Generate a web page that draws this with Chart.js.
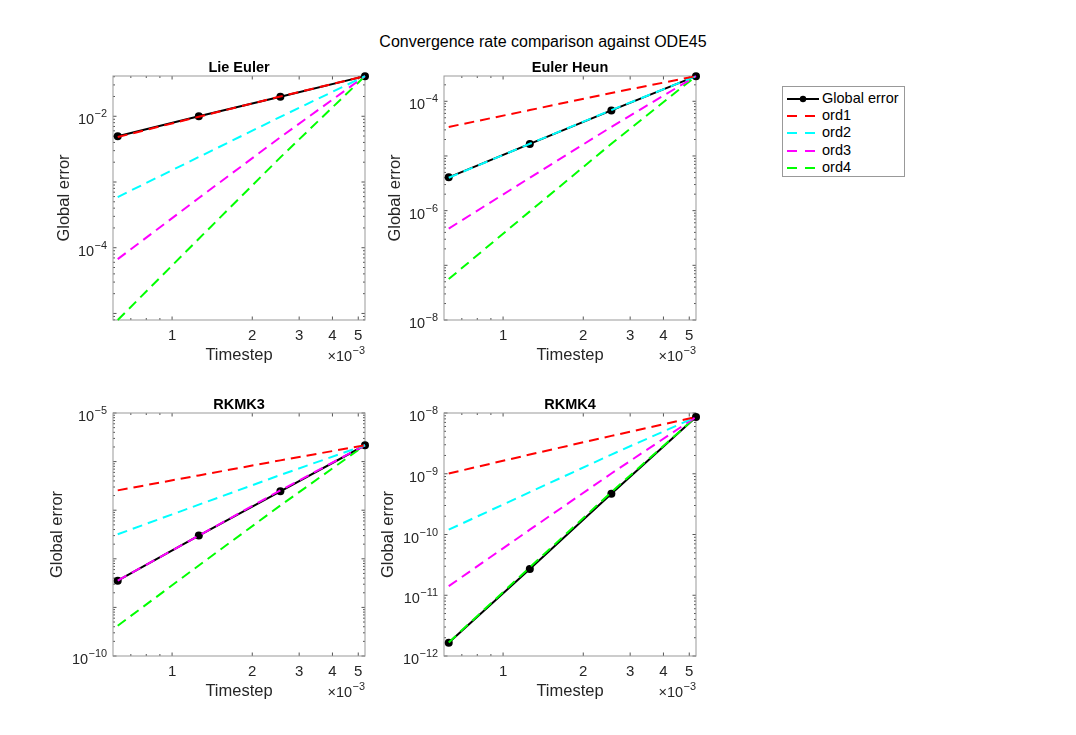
<!DOCTYPE html>
<html>
<head>
<meta charset="utf-8">
<title>Convergence rate comparison against ODE45</title>
<script src="https://cdn.jsdelivr.net/npm/chart.js@4.4.1/dist/chart.umd.min.js"></script>
<style>
  body { margin: 0; background: #fff; width: 1076px; height: 735px; overflow: hidden; position: relative;
         font-family: "Liberation Sans", Arial, Helvetica, sans-serif; }
  canvas { position: absolute; }
  #title { position: absolute; left: 343px; width: 400px; top: 32px; text-align: center;
           font-size: 16px; line-height: 20px; color: #000; }
  #legend { position: absolute; left: 782px; top: 86px; width: 121px; height: 89px;
            border: 1px solid #999; background: #fff; }
  #legend .row { position: absolute; left: 0; height: 17.4px; line-height: 17.4px; font-size: 14.5px; color: #000; white-space: nowrap; }
  #legend svg { position: absolute; left: 4px; top: 3px; }
  #legend span { position: absolute; left: 39px; }
</style>
</head>
<body>
<div id="title">Convergence rate comparison against ODE45</div>
<div id="legend"></div>

<script>
// timesteps (x axis)
const timestep = [0.625e-3, 1.26e-3, 2.55e-3, 5.3e-3];
const xTickLabels = [1e-3, 2e-3, 3e-3, 4e-3, 5e-3];
const xMinorTicks = [0.7e-3, 0.8e-3, 0.9e-3];

// Lie Euler
const lieGlobal = [4.96e-3, 1.0e-2, 1.98e-2, 4.08e-2];
const lieOrd1 = [4.83e-3, 9.84e-3, 2.0e-2, 4.08e-2];
const lieOrd2 = [5.9e-4, 2.4e-3, 9.8e-3, 4.08e-2];
const lieOrd3 = [6.7e-5, 5.7e-4, 4.8e-3, 4.08e-2];
const lieOrd4 = [7.95e-6, 1.37e-4, 2.37e-3, 4.08e-2];

// Euler Heun
const heunGlobal = [4.07e-6, 1.66e-5, 6.8e-5, 2.88e-4];
const heunOrd1 = [3.4e-5, 6.9e-5, 1.42e-4, 2.88e-4];
const heunOrd2 = [4.0e-6, 1.67e-5, 6.9e-5, 2.88e-4];
const heunOrd3 = [4.7e-7, 4.0e-6, 3.4e-5, 2.88e-4];
const heunOrd4 = [5.6e-8, 9.7e-7, 1.67e-5, 2.88e-4];

// RKMK3
const rk3Global = [3.55e-9, 3.0e-8, 2.45e-7, 2.17e-6];
const rk3Ord1 = [2.56e-7, 5.2e-7, 1.06e-6, 2.17e-6];
const rk3Ord2 = [3.2e-8, 1.3e-7, 5.3e-7, 2.17e-6];
const rk3Ord3 = [3.56e-9, 3.0e-8, 2.56e-7, 2.17e-6];
const rk3Ord4 = [4.2e-10, 7.3e-9, 1.25e-7, 2.17e-6];

// RKMK4
const rk4Global = [1.65e-12, 2.7e-11, 4.7e-10, 8.6e-9];
const rk4Ord1 = [1.01e-9, 2.07e-9, 4.2e-9, 8.6e-9];
const rk4Ord2 = [1.2e-10, 4.98e-10, 2.07e-9, 8.6e-9];
const rk4Ord3 = [1.41e-11, 1.2e-10, 1.01e-9, 8.6e-9];
const rk4Ord4 = [1.67e-12, 2.88e-11, 4.98e-10, 8.6e-9];

// y axis limits and labelled ticks
const lieYRange = [7.95e-6, 4.1e-2];
const lieYLabels = [1e-4, 1e-2];
const heunYRange = [1e-8, 2.9e-4];
const heunYLabels = [1e-8, 1e-6, 1e-4];
const rk3YRange = [1e-10, 1e-5];
const rk3YLabels = [1e-10, 1e-5];
const rk4YRange = [1e-12, 1e-8];
const rk4YLabels = [1e-12, 1e-11, 1e-10, 1e-9, 1e-8];

const seriesNames = ['Global error', 'ord1', 'ord2', 'ord3', 'ord4'];
const seriesColors = ['#000000', '#ff0000', '#00ffff', '#ff00ff', '#00ff00'];

const FONT = '"Liberation Sans", Arial, Helvetica, sans-serif';
Chart.defaults.font.family = FONT;
Chart.defaults.color = '#262626';
Chart.defaults.animation = false;

// minor ticks at 2..9 of each decade, decades as major
function logTicks(min, max) {
  const out = [];
  for (let e = Math.floor(Math.log10(min)); e <= Math.ceil(Math.log10(max)); e++) {
    for (let m = 1; m <= 9; m++) {
      const v = m * Math.pow(10, e);
      if (v >= min * 0.999 && v <= max * 1.001) out.push([v, m === 1 ? 3.5 : 2]);
    }
  }
  return out;
}

// base "10" with a raised exponent, right aligned at xr
function powerLabel(ctx, xr, yBase, base, exp, size) {
  ctx.font = (size * 0.75).toFixed(1) + 'px ' + FONT;
  const we = ctx.measureText(exp).width;
  ctx.fillText(exp, xr - we, yBase - 7);
  ctx.font = size + 'px ' + FONT;
  const wb = ctx.measureText(base).width;
  ctx.fillText(base, xr - we - wb - 0.5, yBase);
}

// MATLAB style box, inward ticks, titles, y labels and the x10^-3 multiplier
const axesFrame = {
  id: 'axesFrame',
  beforeDatasetsDraw(chart, args, opts) {
    const { ctx, chartArea: a, scales: { x, y } } = chart;
    ctx.save();
    ctx.lineWidth = 1;
    ctx.strokeStyle = '#555';
    ctx.beginPath();
    opts.xTicks.forEach(([v, len]) => {
      const p = x.getPixelForValue(v);
      ctx.moveTo(p, a.bottom); ctx.lineTo(p, a.bottom - len);
      ctx.moveTo(p, a.top); ctx.lineTo(p, a.top + len);
    });
    opts.yTicks.forEach(([v, len]) => {
      const p = y.getPixelForValue(v);
      ctx.moveTo(a.left, p); ctx.lineTo(a.left + len, p);
      ctx.moveTo(a.right, p); ctx.lineTo(a.right - len, p);
    });
    ctx.stroke();
    ctx.strokeStyle = '#999';
    ctx.strokeRect(a.left, a.top, a.right - a.left, a.bottom - a.top);
    ctx.restore();
  },
  afterDraw(chart, args, opts) {
    const { ctx, chartArea: a, scales: { y } } = chart;
    ctx.save();
    ctx.fillStyle = '#262626';
    ctx.textAlign = 'left';
    ctx.textBaseline = 'alphabetic';
    y.ticks.forEach(t => {
      const p = y.getPixelForValue(t.value);
      const e = Math.round(Math.log10(t.value));
      powerLabel(ctx, a.left - 6, p + 8, '10', (e < 0 ? '\u2212' : '') + Math.abs(e), 14.5);
    });
    powerLabel(ctx, a.right, a.bottom + 41, '\u00d710', '\u22123', 14.5);
    ctx.fillStyle = '#000';
    ctx.font = 'bold 14.5px ' + FONT;
    ctx.textAlign = 'center';
    ctx.fillText(opts.title, (a.left + a.right) / 2, a.top - 4.5);
    ctx.restore();
  }
};

const panels = [
  { title: 'Lie Euler', box: [113, 76, 364.5, 319.5], yRange: lieYRange, yLabels: lieYLabels, yTitlePad: 21.6,
    series: [lieGlobal, lieOrd1, lieOrd2, lieOrd3, lieOrd4] },
  { title: 'Euler Heun', box: [443.5, 76, 695, 319.5], yRange: heunYRange, yLabels: heunYLabels, yTitlePad: 21.6,
    series: [heunGlobal, heunOrd1, heunOrd2, heunOrd3, heunOrd4] },
  { title: 'RKMK3', box: [113, 413, 364.5, 656], yRange: rk3YRange, yLabels: rk3YLabels, yTitlePad: 15,
    series: [rk3Global, rk3Ord1, rk3Ord2, rk3Ord3, rk3Ord4] },
  { title: 'RKMK4', box: [443.5, 413, 695, 656], yRange: rk4YRange, yLabels: rk4YLabels, yTitlePad: 15,
    series: [rk4Global, rk4Ord1, rk4Ord2, rk4Ord3, rk4Ord4] }
];

const PAD_L = 80, PAD_R = 80, PAD_T = 30, PAD_B = 50;

panels.forEach(p => {
  const [L, T, R, B] = p.box;
  const cv = document.createElement('canvas');
  const w = Math.round(R - L + PAD_L + PAD_R), h = Math.round(B - T + PAD_T + PAD_B);
  cv.width = w; cv.height = h;
  cv.style.left = (L - PAD_L) + 'px';
  cv.style.top = (T - PAD_T) + 'px';
  cv.style.width = w + 'px';
  cv.style.height = h + 'px';
  document.body.appendChild(cv);

  const datasets = p.series.map((vals, i) => ({
    label: seriesNames[i],
    data: timestep.map((t, k) => ({ x: t, y: vals[k] })),
    borderColor: seriesColors[i],
    backgroundColor: seriesColors[i],
    borderWidth: 2,
    borderDash: i === 0 ? [] : [10, 6],
    pointRadius: i === 0 ? 4 : 0,
    pointBorderWidth: 0,
    pointBackgroundColor: '#000',
    tension: 0,
    clip: false,
    order: i === 0 ? 10 : i
  }));

  new Chart(cv, {
    type: 'line',
    data: { datasets },
    options: {
      responsive: false,
      layout: { padding: { left: 0, right: PAD_R, top: PAD_T, bottom: 0 } },
      events: [],
      plugins: {
        legend: { display: false },
        tooltip: { enabled: false },
        title: { display: false },
        axesFrame: { title: p.title,
                     xTicks: xTickLabels.map(v => [v, 3.5]).concat(xMinorTicks.map(v => [v, 2])),
                     yTicks: logTicks(p.yRange[0], p.yRange[1]) }
      },
      scales: {
        x: {
          type: 'logarithmic',
          min: timestep[0], max: timestep[timestep.length - 1],
          afterBuildTicks: ax => { ax.ticks = xTickLabels.map(v => ({ value: v })); },
          afterFit: ax => { ax.height = PAD_B; },
          grid: { display: false }, border: { display: false },
          ticks: { callback: v => String(Math.round(v * 1000)), font: { size: 15 },
                   padding: -1.5, maxRotation: 0, autoSkip: false, color: '#262626' },
          title: { display: true, text: 'Timestep', color: '#262626', font: { size: 16.5 },
                   padding: { top: 4.6, bottom: 4.6 } }
        },
        y: {
          type: 'logarithmic',
          min: p.yRange[0], max: p.yRange[1],
          afterBuildTicks: ax => { ax.ticks = p.yLabels.map(v => ({ value: v })); },
          afterFit: ax => { ax.width = PAD_L; },
          grid: { display: false }, border: { display: false },
          ticks: { display: false },
          title: { display: true, text: 'Global error', color: '#262626', font: { size: 16.5 },
                   padding: { top: p.yTitlePad, bottom: p.yTitlePad } }
        }
      }
    },
    plugins: [axesFrame]
  });
});

// legend
const legend = document.getElementById('legend');
seriesNames.forEach((name, i) => {
  const row = document.createElement('div');
  row.className = 'row';
  row.style.top = (2.5 + i * 17.4) + 'px';
  const line = i === 0
    ? '<line x1="0" y1="6" x2="32" y2="6" stroke="#000" stroke-width="2"/><circle cx="16" cy="6" r="3.2" fill="#000"/>'
    : '<line x1="0" y1="6" x2="28" y2="6" stroke="' + seriesColors[i] + '" stroke-width="2" stroke-dasharray="10 8"/>';
  row.innerHTML = '<svg width="34" height="12">' + line + '</svg><span>' + name + '</span>';
  legend.appendChild(row);
});
</script>
</body>
</html>
